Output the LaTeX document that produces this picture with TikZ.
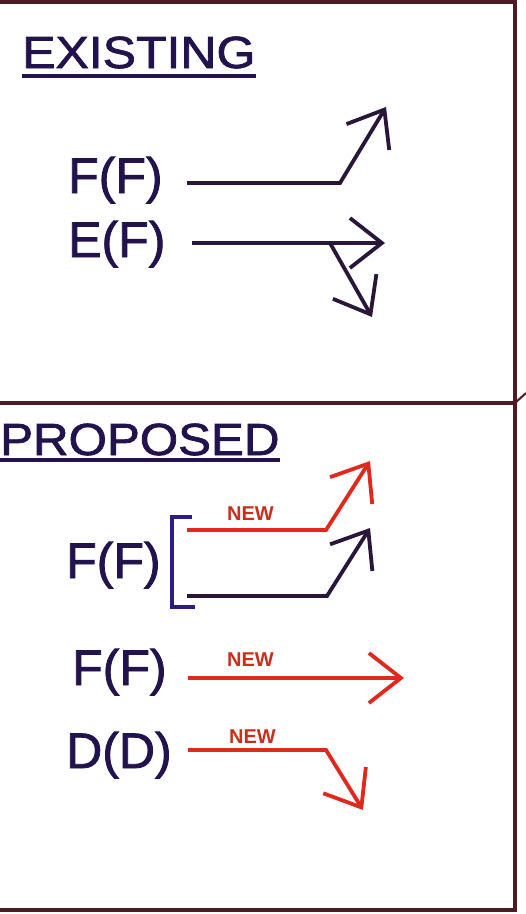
\documentclass[tikz,border=0pt]{standalone}
\usepackage{fontspec}
\setmainfont{Liberation Sans}
\newfontfamily\thickfont[FakeBold=1.6]{Liberation Sans}
\usetikzlibrary{arrows.meta}
\definecolor{framecol}{HTML}{4E1A26}
\definecolor{textcol}{HTML}{22124E}
\definecolor{redcol}{HTML}{E0281E}
\definecolor{newcol}{HTML}{C8301E}
\definecolor{darkarrow}{HTML}{2A1638}
\definecolor{bracketcol}{HTML}{2C1C84}
\begin{document}
\begin{tikzpicture}[x=1pt,y=-1pt,
  framestyle/.style={draw=framecol,line width=3.5pt},
  heading/.style={anchor=base west,inner sep=0pt,text=textcol,font=\thickfont\fontsize{45}{54}\selectfont},
  label/.style={anchor=base west,inner sep=0pt,text=textcol,font=\thickfont\fontsize{50}{60}\selectfont},
  newlabel/.style={anchor=base west,inner sep=0pt,text=newcol,font=\bfseries\fontsize{20}{24}\selectfont},
  underl/.style={draw=textcol,line width=3.5pt},
  darkline/.style={draw=darkarrow,line width=3.8pt,line join=miter,
     -{Straight Barb[length=32pt,width=50pt,line width=3.8pt]}},
  redline/.style={draw=redcol,line width=3.8pt,line join=miter,
     -{Straight Barb[length=32pt,width=50pt,line width=3.8pt]}}]
\useasboundingbox (0,0) rectangle (526,914);
\fill[white] (0,0) rectangle (526,914);
% frame
\draw[framestyle] (0,2) -- (515,2) -- (515,910) -- (0,910);
\draw[framestyle] (0,403) -- (515,403);
\draw[draw=framecol,line width=2pt] (515,403) -- (526,393);
% headings
\node[heading] (exist) at (22,68) {\scalebox{1.11}[1]{EXISTING}};
\draw[underl] (exist.base west) ++(0,8) coordinate (u1a) -- (u1a -| exist.base east);
\node[heading] (prop) at (0,455) {\scalebox{1.095}[1]{PROPOSED}};
\draw[underl] (prop.base west) ++(0,5) coordinate (u2a) -- (u2a -| prop.base east);
% existing labels
\node[label] (ff1) at (68,193) {F(F)};
\node[label] (ef1) at (68,257) {E(F)};
% existing arrows
\coordinate (a1s) at (187,183);
\coordinate (a1k) at (340,183);
\coordinate (a1t) at (386,107);
\draw[darkline] (a1s) -- (a1k) -- (a1t);
\coordinate (a2s) at (192,243);
\coordinate (a2t) at (385,243);
\draw[darkline] (a2s) -- (a2t);
\coordinate (a3s) at (330,243);
\coordinate (a3t) at (372,317);
\draw[darkline] (a3s) -- (a3t);
% proposed labels
\node[label] (ff2) at (66,578) {F(F)};
\node[label] (ff3) at (72,685) {F(F)};
\node[label] (dd1) at (66,768) {D(D)};
\node[newlabel] (new1) at (227,520) {NEW};
\node[newlabel] (new2) at (227,666) {NEW};
\node[newlabel] (new3) at (229,743) {NEW};
% bracket
\coordinate (bt) at (192,517);
\coordinate (bb) at (195,607);
\draw[draw=bracketcol,line width=3.5pt,line join=miter] (bt) -- (172,517) -- (172,607) -- (bb);
% proposed arrows
\coordinate (r1s) at (187,530);
\coordinate (r1k) at (326,530);
\coordinate (r1t) at (370,461);
\draw[redline] (r1s) -- (r1k) -- (r1t);
\coordinate (b1s) at (187,596);
\coordinate (b1k) at (327,596);
\coordinate (b1t) at (370,528);
\draw[darkline] (b1s) -- (b1k) -- (b1t);
\coordinate (r2s) at (188,678);
\coordinate (r2t) at (404,678);
\draw[redline] (r2s) -- (r2t);
\coordinate (r3s) at (188,750);
\coordinate (r3k) at (326,750);
\coordinate (r3t) at (363,810);
\draw[redline] (r3s) -- (r3k) -- (r3t);
\end{tikzpicture}
\end{document}
